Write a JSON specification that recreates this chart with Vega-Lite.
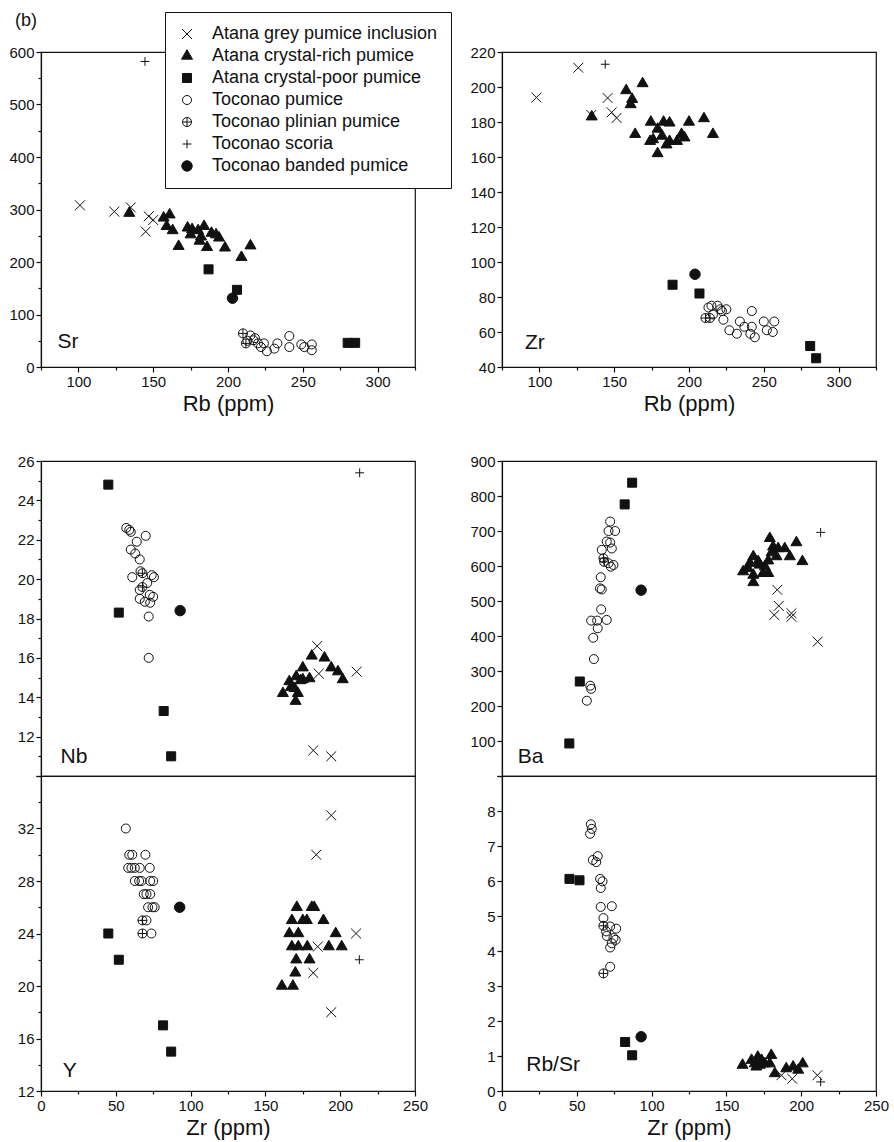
{
  "$schema": "https://vega.github.io/schema/vega-lite/v6.json",
  "padding": {"left": 8, "top": 11, "right": 5, "bottom": 5},
  "spacing": 38,
  "config": {
    "font": "Liberation Sans",
    "view": {"stroke": "#111", "strokeWidth": 1.2},
    "axis": {"grid": false, "format": "d", "domainColor": "#111", "domainWidth": 1.2, "tickColor": "#111", "tickWidth": 1.2, "labelFont": "Liberation Sans", "labelFontSize": 15, "labelColor": "#111", "labelPadding": 2, "labelFlush": false, "labelOverlap": false, "titleFont": "Liberation Sans", "titleFontSize": 22, "titleFontWeight": "normal", "titleColor": "#111", "titlePadding": 4},
    "legend": {"labelFont": "Liberation Sans", "labelFontSize": 18, "labelColor": "#111", "fillColor": "white", "strokeColor": "#111", "padding": 13, "rowPadding": 4, "labelOffset": 16, "symbolSize": 121, "symbolStrokeColor": "#111", "symbolStrokeWidth": 1, "labelLimit": 400}
  },
  "datasets": {
    "sr": [
      {"g": "Atana grey pumice inclusion", "x": 101, "y": 308},
      {"g": "Atana grey pumice inclusion", "x": 124, "y": 296},
      {"g": "Atana grey pumice inclusion", "x": 135, "y": 304},
      {"g": "Atana grey pumice inclusion", "x": 145, "y": 258},
      {"g": "Atana grey pumice inclusion", "x": 147, "y": 287},
      {"g": "Atana grey pumice inclusion", "x": 150, "y": 280},
      {"g": "Atana crystal-rich pumice", "x": 134, "y": 293},
      {"g": "Atana crystal-rich pumice", "x": 157, "y": 284},
      {"g": "Atana crystal-rich pumice", "x": 161, "y": 290},
      {"g": "Atana crystal-rich pumice", "x": 159, "y": 268},
      {"g": "Atana crystal-rich pumice", "x": 163, "y": 260},
      {"g": "Atana crystal-rich pumice", "x": 167, "y": 230},
      {"g": "Atana crystal-rich pumice", "x": 173, "y": 265},
      {"g": "Atana crystal-rich pumice", "x": 176, "y": 262},
      {"g": "Atana crystal-rich pumice", "x": 175, "y": 252},
      {"g": "Atana crystal-rich pumice", "x": 180, "y": 260},
      {"g": "Atana crystal-rich pumice", "x": 182, "y": 248},
      {"g": "Atana crystal-rich pumice", "x": 184, "y": 268},
      {"g": "Atana crystal-rich pumice", "x": 181, "y": 240},
      {"g": "Atana crystal-rich pumice", "x": 186, "y": 228},
      {"g": "Atana crystal-rich pumice", "x": 189, "y": 255},
      {"g": "Atana crystal-rich pumice", "x": 192, "y": 252},
      {"g": "Atana crystal-rich pumice", "x": 194, "y": 246},
      {"g": "Atana crystal-rich pumice", "x": 198, "y": 227},
      {"g": "Atana crystal-rich pumice", "x": 209, "y": 209},
      {"g": "Atana crystal-rich pumice", "x": 215, "y": 231},
      {"g": "Atana crystal-poor pumice", "x": 187, "y": 186},
      {"g": "Atana crystal-poor pumice", "x": 206, "y": 147},
      {"g": "Atana crystal-poor pumice", "x": 280, "y": 46},
      {"g": "Atana crystal-poor pumice", "x": 285, "y": 46},
      {"g": "Toconao pumice", "x": 215, "y": 60},
      {"g": "Toconao pumice", "x": 217, "y": 51},
      {"g": "Toconao pumice", "x": 220, "y": 45},
      {"g": "Toconao pumice", "x": 222, "y": 38},
      {"g": "Toconao pumice", "x": 224, "y": 45},
      {"g": "Toconao pumice", "x": 226, "y": 30},
      {"g": "Toconao pumice", "x": 231, "y": 35},
      {"g": "Toconao pumice", "x": 233, "y": 45},
      {"g": "Toconao pumice", "x": 241, "y": 59},
      {"g": "Toconao pumice", "x": 241, "y": 38},
      {"g": "Toconao pumice", "x": 249, "y": 43},
      {"g": "Toconao pumice", "x": 251, "y": 38},
      {"g": "Toconao pumice", "x": 256, "y": 43},
      {"g": "Toconao pumice", "x": 256, "y": 32},
      {"g": "Toconao pumice", "x": 218, "y": 55},
      {"g": "Toconao pumice", "x": 213, "y": 50},
      {"g": "Toconao plinian pumice", "x": 210, "y": 64},
      {"g": "Toconao plinian pumice", "x": 212, "y": 45},
      {"g": "Toconao scoria", "x": 144.5, "y": 582},
      {"g": "Toconao banded pumice", "x": 203, "y": 131}
    ],
    "zr": [
      {"g": "Atana grey pumice inclusion", "x": 98, "y": 194},
      {"g": "Atana grey pumice inclusion", "x": 126, "y": 211},
      {"g": "Atana grey pumice inclusion", "x": 145.6, "y": 193.7},
      {"g": "Atana grey pumice inclusion", "x": 148.3, "y": 185.5},
      {"g": "Atana grey pumice inclusion", "x": 151.6, "y": 182.3},
      {"g": "Atana grey pumice inclusion", "x": 134.7, "y": 184},
      {"g": "Atana crystal-rich pumice", "x": 135, "y": 183},
      {"g": "Atana crystal-rich pumice", "x": 158, "y": 198},
      {"g": "Atana crystal-rich pumice", "x": 162, "y": 193},
      {"g": "Atana crystal-rich pumice", "x": 161, "y": 190},
      {"g": "Atana crystal-rich pumice", "x": 169, "y": 202},
      {"g": "Atana crystal-rich pumice", "x": 164, "y": 173},
      {"g": "Atana crystal-rich pumice", "x": 174.5, "y": 180},
      {"g": "Atana crystal-rich pumice", "x": 183, "y": 180},
      {"g": "Atana crystal-rich pumice", "x": 187, "y": 179.5},
      {"g": "Atana crystal-rich pumice", "x": 200, "y": 180},
      {"g": "Atana crystal-rich pumice", "x": 210, "y": 182},
      {"g": "Atana crystal-rich pumice", "x": 216, "y": 173},
      {"g": "Atana crystal-rich pumice", "x": 179, "y": 176},
      {"g": "Atana crystal-rich pumice", "x": 176, "y": 170},
      {"g": "Atana crystal-rich pumice", "x": 182, "y": 172},
      {"g": "Atana crystal-rich pumice", "x": 187, "y": 169},
      {"g": "Atana crystal-rich pumice", "x": 192, "y": 169},
      {"g": "Atana crystal-rich pumice", "x": 197, "y": 171},
      {"g": "Atana crystal-rich pumice", "x": 195, "y": 173},
      {"g": "Atana crystal-rich pumice", "x": 185, "y": 167},
      {"g": "Atana crystal-rich pumice", "x": 179, "y": 162},
      {"g": "Atana crystal-rich pumice", "x": 174, "y": 169},
      {"g": "Atana crystal-poor pumice", "x": 189, "y": 87},
      {"g": "Atana crystal-poor pumice", "x": 207, "y": 82},
      {"g": "Atana crystal-poor pumice", "x": 281, "y": 52},
      {"g": "Atana crystal-poor pumice", "x": 285, "y": 45},
      {"g": "Toconao pumice", "x": 213, "y": 74},
      {"g": "Toconao pumice", "x": 215, "y": 75},
      {"g": "Toconao pumice", "x": 219, "y": 75},
      {"g": "Toconao pumice", "x": 221, "y": 73},
      {"g": "Toconao pumice", "x": 222, "y": 72},
      {"g": "Toconao pumice", "x": 225, "y": 73},
      {"g": "Toconao pumice", "x": 223, "y": 67},
      {"g": "Toconao pumice", "x": 216, "y": 70},
      {"g": "Toconao pumice", "x": 227, "y": 61},
      {"g": "Toconao pumice", "x": 232, "y": 59},
      {"g": "Toconao pumice", "x": 234, "y": 66},
      {"g": "Toconao pumice", "x": 237, "y": 63},
      {"g": "Toconao pumice", "x": 242, "y": 72},
      {"g": "Toconao pumice", "x": 242, "y": 63},
      {"g": "Toconao pumice", "x": 241, "y": 59},
      {"g": "Toconao pumice", "x": 244, "y": 57},
      {"g": "Toconao pumice", "x": 250, "y": 66},
      {"g": "Toconao pumice", "x": 252, "y": 61},
      {"g": "Toconao pumice", "x": 256, "y": 60},
      {"g": "Toconao pumice", "x": 257, "y": 66},
      {"g": "Toconao plinian pumice", "x": 211, "y": 68},
      {"g": "Toconao plinian pumice", "x": 214, "y": 68},
      {"g": "Toconao scoria", "x": 144, "y": 213},
      {"g": "Toconao banded pumice", "x": 204, "y": 93}
    ],
    "nb": [
      {"g": "Atana grey pumice inclusion", "x": 184.6, "y": 16.6},
      {"g": "Atana grey pumice inclusion", "x": 185.7, "y": 15.2},
      {"g": "Atana grey pumice inclusion", "x": 211, "y": 15.3},
      {"g": "Atana grey pumice inclusion", "x": 182, "y": 11.3},
      {"g": "Atana grey pumice inclusion", "x": 194, "y": 11.0},
      {"g": "Atana crystal-rich pumice", "x": 181, "y": 16.1},
      {"g": "Atana crystal-rich pumice", "x": 189.5, "y": 16.0},
      {"g": "Atana crystal-rich pumice", "x": 175, "y": 15.5},
      {"g": "Atana crystal-rich pumice", "x": 194, "y": 15.5},
      {"g": "Atana crystal-rich pumice", "x": 198.5, "y": 15.3},
      {"g": "Atana crystal-rich pumice", "x": 201.7, "y": 14.9},
      {"g": "Atana crystal-rich pumice", "x": 170.6, "y": 15.05},
      {"g": "Atana crystal-rich pumice", "x": 166, "y": 14.8},
      {"g": "Atana crystal-rich pumice", "x": 161.7, "y": 14.2},
      {"g": "Atana crystal-rich pumice", "x": 169.5, "y": 14.45},
      {"g": "Atana crystal-rich pumice", "x": 171.7, "y": 14.2},
      {"g": "Atana crystal-rich pumice", "x": 170.2, "y": 13.8},
      {"g": "Atana crystal-rich pumice", "x": 175, "y": 14.9},
      {"g": "Atana crystal-rich pumice", "x": 179.5, "y": 14.95},
      {"g": "Atana crystal-rich pumice", "x": 167, "y": 14.5},
      {"g": "Atana crystal-rich pumice", "x": 173.5, "y": 14.85},
      {"g": "Atana crystal-poor pumice", "x": 45, "y": 24.8},
      {"g": "Atana crystal-poor pumice", "x": 52, "y": 18.3},
      {"g": "Atana crystal-poor pumice", "x": 82, "y": 13.3},
      {"g": "Atana crystal-poor pumice", "x": 87, "y": 11.0},
      {"g": "Toconao pumice", "x": 57, "y": 22.6},
      {"g": "Toconao pumice", "x": 59, "y": 22.5},
      {"g": "Toconao pumice", "x": 60, "y": 22.4},
      {"g": "Toconao pumice", "x": 70, "y": 22.2},
      {"g": "Toconao pumice", "x": 64, "y": 21.9},
      {"g": "Toconao pumice", "x": 60, "y": 21.5},
      {"g": "Toconao pumice", "x": 63, "y": 21.3},
      {"g": "Toconao pumice", "x": 66, "y": 21.0},
      {"g": "Toconao pumice", "x": 66.5, "y": 20.4},
      {"g": "Toconao pumice", "x": 61, "y": 20.1},
      {"g": "Toconao pumice", "x": 74, "y": 20.2},
      {"g": "Toconao pumice", "x": 75.5, "y": 20.1},
      {"g": "Toconao pumice", "x": 71, "y": 19.8},
      {"g": "Toconao pumice", "x": 66, "y": 19.45},
      {"g": "Toconao pumice", "x": 72.7, "y": 19.2},
      {"g": "Toconao pumice", "x": 75, "y": 19.1},
      {"g": "Toconao pumice", "x": 66, "y": 19.0},
      {"g": "Toconao pumice", "x": 69.4, "y": 18.85},
      {"g": "Toconao pumice", "x": 73, "y": 18.8},
      {"g": "Toconao pumice", "x": 72, "y": 18.1},
      {"g": "Toconao pumice", "x": 72, "y": 16.0},
      {"g": "Toconao plinian pumice", "x": 67.8, "y": 20.3},
      {"g": "Toconao plinian pumice", "x": 67.8, "y": 19.6},
      {"g": "Toconao scoria", "x": 213, "y": 25.4},
      {"g": "Toconao banded pumice", "x": 93, "y": 18.4}
    ],
    "ba": [
      {"g": "Atana grey pumice inclusion", "x": 184, "y": 532},
      {"g": "Atana grey pumice inclusion", "x": 185, "y": 486},
      {"g": "Atana grey pumice inclusion", "x": 182, "y": 460},
      {"g": "Atana grey pumice inclusion", "x": 193.5, "y": 465},
      {"g": "Atana grey pumice inclusion", "x": 193.5, "y": 455},
      {"g": "Atana grey pumice inclusion", "x": 211, "y": 384},
      {"g": "Atana crystal-rich pumice", "x": 179, "y": 679},
      {"g": "Atana crystal-rich pumice", "x": 196.8, "y": 667},
      {"g": "Atana crystal-rich pumice", "x": 189, "y": 650},
      {"g": "Atana crystal-rich pumice", "x": 181.2, "y": 655},
      {"g": "Atana crystal-rich pumice", "x": 180.2, "y": 638},
      {"g": "Atana crystal-rich pumice", "x": 192.4, "y": 627},
      {"g": "Atana crystal-rich pumice", "x": 200.8, "y": 613},
      {"g": "Atana crystal-rich pumice", "x": 168, "y": 627},
      {"g": "Atana crystal-rich pumice", "x": 178, "y": 615},
      {"g": "Atana crystal-rich pumice", "x": 171.2, "y": 613},
      {"g": "Atana crystal-rich pumice", "x": 161.2, "y": 584},
      {"g": "Atana crystal-rich pumice", "x": 164.5, "y": 593},
      {"g": "Atana crystal-rich pumice", "x": 168, "y": 574},
      {"g": "Atana crystal-rich pumice", "x": 174.5, "y": 579},
      {"g": "Atana crystal-rich pumice", "x": 178, "y": 579},
      {"g": "Atana crystal-rich pumice", "x": 168, "y": 553},
      {"g": "Atana crystal-rich pumice", "x": 172.3, "y": 603},
      {"g": "Atana crystal-rich pumice", "x": 175.7, "y": 598},
      {"g": "Atana crystal-rich pumice", "x": 165.7, "y": 608},
      {"g": "Atana crystal-rich pumice", "x": 184.6, "y": 650},
      {"g": "Atana crystal-rich pumice", "x": 183.5, "y": 627},
      {"g": "Atana crystal-poor pumice", "x": 45, "y": 93},
      {"g": "Atana crystal-poor pumice", "x": 52, "y": 270},
      {"g": "Atana crystal-poor pumice", "x": 82, "y": 776},
      {"g": "Atana crystal-poor pumice", "x": 87, "y": 838},
      {"g": "Toconao pumice", "x": 72.3, "y": 727},
      {"g": "Toconao pumice", "x": 71.2, "y": 700},
      {"g": "Toconao pumice", "x": 75.6, "y": 700},
      {"g": "Toconao pumice", "x": 70, "y": 670},
      {"g": "Toconao pumice", "x": 72.3, "y": 667},
      {"g": "Toconao pumice", "x": 73.4, "y": 650},
      {"g": "Toconao pumice", "x": 66.7, "y": 646},
      {"g": "Toconao pumice", "x": 71.2, "y": 608},
      {"g": "Toconao pumice", "x": 74.5, "y": 603},
      {"g": "Toconao pumice", "x": 72.7, "y": 598},
      {"g": "Toconao pumice", "x": 66, "y": 568},
      {"g": "Toconao pumice", "x": 66.7, "y": 533},
      {"g": "Toconao pumice", "x": 65.5, "y": 536},
      {"g": "Toconao pumice", "x": 66.3, "y": 476},
      {"g": "Toconao pumice", "x": 70, "y": 446},
      {"g": "Toconao pumice", "x": 63.6, "y": 444},
      {"g": "Toconao pumice", "x": 59.6, "y": 444},
      {"g": "Toconao pumice", "x": 64, "y": 422},
      {"g": "Toconao pumice", "x": 61, "y": 395},
      {"g": "Toconao pumice", "x": 61.4, "y": 334},
      {"g": "Toconao pumice", "x": 59.6, "y": 249},
      {"g": "Toconao pumice", "x": 59, "y": 258},
      {"g": "Toconao pumice", "x": 56.7, "y": 215},
      {"g": "Toconao plinian pumice", "x": 67.8, "y": 622},
      {"g": "Toconao plinian pumice", "x": 68.3, "y": 612},
      {"g": "Toconao scoria", "x": 213, "y": 696},
      {"g": "Toconao banded pumice", "x": 93, "y": 531}
    ],
    "yy": [
      {"g": "Atana grey pumice inclusion", "x": 194, "y": 33},
      {"g": "Atana grey pumice inclusion", "x": 184, "y": 30},
      {"g": "Atana grey pumice inclusion", "x": 210.6, "y": 24},
      {"g": "Atana grey pumice inclusion", "x": 185, "y": 23},
      {"g": "Atana grey pumice inclusion", "x": 182, "y": 21},
      {"g": "Atana grey pumice inclusion", "x": 194, "y": 18},
      {"g": "Atana crystal-rich pumice", "x": 171, "y": 26},
      {"g": "Atana crystal-rich pumice", "x": 181, "y": 26},
      {"g": "Atana crystal-rich pumice", "x": 182.6, "y": 26},
      {"g": "Atana crystal-rich pumice", "x": 167.7, "y": 25},
      {"g": "Atana crystal-rich pumice", "x": 175, "y": 25},
      {"g": "Atana crystal-rich pumice", "x": 177.7, "y": 25},
      {"g": "Atana crystal-rich pumice", "x": 188.8, "y": 25},
      {"g": "Atana crystal-rich pumice", "x": 166, "y": 24},
      {"g": "Atana crystal-rich pumice", "x": 172, "y": 24},
      {"g": "Atana crystal-rich pumice", "x": 197, "y": 24},
      {"g": "Atana crystal-rich pumice", "x": 167.7, "y": 23},
      {"g": "Atana crystal-rich pumice", "x": 172, "y": 23},
      {"g": "Atana crystal-rich pumice", "x": 178, "y": 23},
      {"g": "Atana crystal-rich pumice", "x": 192.4, "y": 23},
      {"g": "Atana crystal-rich pumice", "x": 201, "y": 23},
      {"g": "Atana crystal-rich pumice", "x": 170.6, "y": 22},
      {"g": "Atana crystal-rich pumice", "x": 179.5, "y": 22},
      {"g": "Atana crystal-rich pumice", "x": 170, "y": 21},
      {"g": "Atana crystal-rich pumice", "x": 161, "y": 20},
      {"g": "Atana crystal-rich pumice", "x": 168.4, "y": 20},
      {"g": "Atana crystal-poor pumice", "x": 45, "y": 24},
      {"g": "Atana crystal-poor pumice", "x": 52, "y": 22},
      {"g": "Atana crystal-poor pumice", "x": 81.6, "y": 17},
      {"g": "Atana crystal-poor pumice", "x": 87, "y": 15},
      {"g": "Toconao pumice", "x": 56.7, "y": 32},
      {"g": "Toconao pumice", "x": 59, "y": 30},
      {"g": "Toconao pumice", "x": 61, "y": 30},
      {"g": "Toconao pumice", "x": 69.8, "y": 30},
      {"g": "Toconao pumice", "x": 58.3, "y": 29},
      {"g": "Toconao pumice", "x": 60.5, "y": 29},
      {"g": "Toconao pumice", "x": 62.7, "y": 29},
      {"g": "Toconao pumice", "x": 66, "y": 29},
      {"g": "Toconao pumice", "x": 72.7, "y": 29},
      {"g": "Toconao pumice", "x": 62.7, "y": 28},
      {"g": "Toconao pumice", "x": 65.6, "y": 28},
      {"g": "Toconao pumice", "x": 67.2, "y": 28},
      {"g": "Toconao pumice", "x": 73, "y": 28},
      {"g": "Toconao pumice", "x": 75, "y": 28},
      {"g": "Toconao pumice", "x": 68.7, "y": 27},
      {"g": "Toconao pumice", "x": 70.5, "y": 27},
      {"g": "Toconao pumice", "x": 73, "y": 27},
      {"g": "Toconao pumice", "x": 71.6, "y": 26},
      {"g": "Toconao pumice", "x": 74.5, "y": 26},
      {"g": "Toconao pumice", "x": 76, "y": 26},
      {"g": "Toconao pumice", "x": 70.5, "y": 25},
      {"g": "Toconao pumice", "x": 73.8, "y": 24},
      {"g": "Toconao plinian pumice", "x": 67.8, "y": 25},
      {"g": "Toconao plinian pumice", "x": 67.8, "y": 24},
      {"g": "Toconao scoria", "x": 212.8, "y": 22},
      {"g": "Toconao banded pumice", "x": 92.7, "y": 26}
    ],
    "rbsr": [
      {"g": "Atana grey pumice inclusion", "x": 194, "y": 0.35},
      {"g": "Atana grey pumice inclusion", "x": 210.8, "y": 0.45},
      {"g": "Atana grey pumice inclusion", "x": 186.8, "y": 0.45},
      {"g": "Atana crystal-rich pumice", "x": 160.8, "y": 0.74},
      {"g": "Atana crystal-rich pumice", "x": 166.8, "y": 0.88},
      {"g": "Atana crystal-rich pumice", "x": 171, "y": 0.97},
      {"g": "Atana crystal-rich pumice", "x": 169, "y": 0.78},
      {"g": "Atana crystal-rich pumice", "x": 172.3, "y": 0.74},
      {"g": "Atana crystal-rich pumice", "x": 175.7, "y": 0.78},
      {"g": "Atana crystal-rich pumice", "x": 180, "y": 1.02},
      {"g": "Atana crystal-rich pumice", "x": 179, "y": 0.78},
      {"g": "Atana crystal-rich pumice", "x": 182.4, "y": 0.5},
      {"g": "Atana crystal-rich pumice", "x": 190, "y": 0.64},
      {"g": "Atana crystal-rich pumice", "x": 194.6, "y": 0.69},
      {"g": "Atana crystal-rich pumice", "x": 201, "y": 0.78},
      {"g": "Atana crystal-rich pumice", "x": 173.5, "y": 0.88},
      {"g": "Atana crystal-rich pumice", "x": 170, "y": 0.69},
      {"g": "Atana crystal-rich pumice", "x": 198, "y": 0.6},
      {"g": "Atana crystal-poor pumice", "x": 45.1, "y": 6.06},
      {"g": "Atana crystal-poor pumice", "x": 51.8, "y": 6.02},
      {"g": "Atana crystal-poor pumice", "x": 82.3, "y": 1.4},
      {"g": "Atana crystal-poor pumice", "x": 87, "y": 1.02},
      {"g": "Toconao pumice", "x": 59.4, "y": 7.62},
      {"g": "Toconao pumice", "x": 60, "y": 7.49},
      {"g": "Toconao pumice", "x": 58.9, "y": 7.35},
      {"g": "Toconao pumice", "x": 64, "y": 6.71},
      {"g": "Toconao pumice", "x": 60.7, "y": 6.6},
      {"g": "Toconao pumice", "x": 63, "y": 6.54},
      {"g": "Toconao pumice", "x": 65.6, "y": 6.06},
      {"g": "Toconao pumice", "x": 67.2, "y": 5.99},
      {"g": "Toconao pumice", "x": 66, "y": 5.8},
      {"g": "Toconao pumice", "x": 73.4, "y": 5.28},
      {"g": "Toconao pumice", "x": 66, "y": 5.26},
      {"g": "Toconao pumice", "x": 67.8, "y": 4.94},
      {"g": "Toconao pumice", "x": 72.3, "y": 4.7},
      {"g": "Toconao pumice", "x": 69.6, "y": 4.56},
      {"g": "Toconao pumice", "x": 76.3, "y": 4.64},
      {"g": "Toconao pumice", "x": 70, "y": 4.43},
      {"g": "Toconao pumice", "x": 74.5, "y": 4.37},
      {"g": "Toconao pumice", "x": 76, "y": 4.32},
      {"g": "Toconao pumice", "x": 73.4, "y": 4.22},
      {"g": "Toconao pumice", "x": 72.3, "y": 4.1},
      {"g": "Toconao pumice", "x": 72.3, "y": 3.55},
      {"g": "Toconao plinian pumice", "x": 67.8, "y": 4.72},
      {"g": "Toconao plinian pumice", "x": 67.8, "y": 3.36},
      {"g": "Toconao scoria", "x": 213, "y": 0.26},
      {"g": "Toconao banded pumice", "x": 93, "y": 1.55}
    ]
  },
  "vconcat": [
    {
      "hconcat": [
        {
          "width": 374, "height": 315,
          "layer": [
            {
              "data": {"name": "sr"},
              "mark": {"type": "point", "filled": true, "opacity": 1, "strokeWidth": 1, "size": 121},
              "encoding": {
                "x": {"field": "x", "type": "quantitative", "scale": {"domain": [75, 325], "nice": false, "zero": false}, "axis": {"title": "Rb (ppm)", "format": "d", "tickCount": 100, "labelOverlap": false, "values": [75, 100, 125, 150, 175, 200, 225, 250, 275, 300, 325], "labelExpr": "datum.value % 50 === 0 ? datum.label : ''", "tickSize": {"condition": {"test": "datum.value % 50 === 0", "value": 5}, "value": 3}}},
                "y": {"field": "y", "type": "quantitative", "scale": {"domain": [0, 600], "nice": false, "zero": false}, "axis": {"title": null, "format": "d", "tickCount": 100, "labelOverlap": false, "values": [0, 50, 100, 150, 200, 250, 300, 350, 400, 450, 500, 550, 600], "labelExpr": "datum.value % 100 === 0 ? datum.label : ''", "tickSize": {"condition": {"test": "datum.value % 100 === 0", "value": 5}, "value": 3}}},
                "shape": {"field": "g", "type": "nominal", "scale": {"domain": ["Atana grey pumice inclusion", "Atana crystal-rich pumice", "Atana crystal-poor pumice", "Toconao pumice", "Toconao plinian pumice", "Toconao scoria", "Toconao banded pumice"], "range": ["M-0.9,-0.9L0.9,0.9M-0.9,0.9L0.9,-0.9", "M0,-1.155L1,0.577L-1,0.577Z", "M-0.82,-0.82L0.82,-0.82L0.82,0.82L-0.82,0.82Z", "M-0.82,0A0.82,0.82,0,1,1,0.82,0A0.82,0.82,0,1,1,-0.82,0Z", "M-0.82,0A0.82,0.82,0,1,1,0.82,0A0.82,0.82,0,1,1,-0.82,0ZM-0.82,0L0.82,0M0,-0.82L0,0.82", "M-0.8,0L0.8,0M0,-0.8L0,0.8", "M-0.95,0A0.95,0.95,0,1,1,0.95,0A0.95,0.95,0,1,1,-0.95,0Z"]}, "legend": {"title": null, "orient": "none", "legendX": 124, "legendY": -40}},
                "fill": {"field": "g", "type": "nominal", "scale": {"domain": ["Atana grey pumice inclusion", "Atana crystal-rich pumice", "Atana crystal-poor pumice", "Toconao pumice", "Toconao plinian pumice", "Toconao scoria", "Toconao banded pumice"], "range": ["transparent", "#111", "#111", "transparent", "transparent", "transparent", "#111"]}, "legend": {"title": null, "orient": "none", "legendX": 124, "legendY": -40}},
                "stroke": {"field": "g", "type": "nominal", "scale": {"domain": ["Atana grey pumice inclusion", "Atana crystal-rich pumice", "Atana crystal-poor pumice", "Toconao pumice", "Toconao plinian pumice", "Toconao scoria", "Toconao banded pumice"], "range": ["#111", "#111", "#111", "#111", "#111", "#111", "#111"]}, "legend": {"title": null, "orient": "none", "legendX": 124, "legendY": -40}}
              }
            },
            {
              "data": {"values": [{"label": "Sr"}]},
              "mark": {"type": "text", "align": "left", "baseline": "alphabetic", "fontSize": 21, "font": "Liberation Sans", "color": "#111"},
              "encoding": {"x": {"datum": 86}, "y": {"datum": 36}, "text": {"field": "label"}}
            },
            {
              "data": {"values": [{"label": "(b)"}]},
              "mark": {"type": "text", "align": "left", "baseline": "alphabetic", "fontSize": 18, "font": "Liberation Sans", "color": "#111"},
              "encoding": {"x": {"datum": 57.6}, "y": {"datum": 649}, "text": {"field": "label"}}
            }
          ]
        },
        {
          "width": 374, "height": 315,
          "layer": [
            {
              "data": {"name": "zr"},
              "mark": {"type": "point", "filled": true, "opacity": 1, "strokeWidth": 1, "size": 121},
              "encoding": {
                "x": {"field": "x", "type": "quantitative", "scale": {"domain": [75, 325], "nice": false, "zero": false}, "axis": {"title": "Rb (ppm)", "format": "d", "tickCount": 100, "labelOverlap": false, "values": [75, 100, 125, 150, 175, 200, 225, 250, 275, 300, 325], "labelExpr": "datum.value % 50 === 0 ? datum.label : ''", "tickSize": {"condition": {"test": "datum.value % 50 === 0", "value": 5}, "value": 3}}},
                "y": {"field": "y", "type": "quantitative", "scale": {"domain": [40, 220], "nice": false, "zero": false}, "axis": {"title": null, "format": "d", "tickCount": 100, "labelOverlap": false, "values": [40, 60, 80, 100, 120, 140, 160, 180, 200, 220], "tickSize": 5}},
                "shape": {"field": "g", "type": "nominal", "legend": {"title": null, "orient": "none", "legendX": 124, "legendY": -40}},
                "fill": {"field": "g", "type": "nominal", "legend": {"title": null, "orient": "none", "legendX": 124, "legendY": -40}},
                "stroke": {"field": "g", "type": "nominal", "legend": {"title": null, "orient": "none", "legendX": 124, "legendY": -40}}
              }
            },
            {
              "data": {"values": [{"label": "Zr"}]},
              "mark": {"type": "text", "align": "left", "baseline": "alphabetic", "fontSize": 21, "font": "Liberation Sans", "color": "#111"},
              "encoding": {"x": {"datum": 90.4}, "y": {"datum": 50.3}, "text": {"field": "label"}}
            }
          ]
        }
      ],
      "spacing": 87,
      "bounds": "flush"
    },
    {
      "columns": 2,
      "spacing": {"row": 0, "column": 87},
      "bounds": "flush",
      "concat": [
        {
          "width": 374, "height": 315,
          "layer": [
            {
              "data": {"name": "nb"},
              "mark": {"type": "point", "filled": true, "opacity": 1, "strokeWidth": 1, "size": 121},
              "encoding": {
                "x": {"field": "x", "type": "quantitative", "scale": {"domain": [0, 250], "nice": false, "zero": false}, "axis": null},
                "y": {"field": "y", "type": "quantitative", "scale": {"domain": [10, 26], "nice": false, "zero": false}, "axis": {"title": null, "format": "d", "tickCount": 100, "labelOverlap": false, "values": [10, 11, 12, 13, 14, 15, 16, 17, 18, 19, 20, 21, 22, 23, 24, 25, 26], "labelExpr": "datum.value % 2 === 0 && datum.value >= 12 ? datum.label : ''", "tickSize": {"condition": {"test": "datum.value % 2 === 0", "value": 5}, "value": 3}}},
                "shape": {"field": "g", "type": "nominal", "legend": {"title": null, "orient": "none", "legendX": 124, "legendY": -40}},
                "fill": {"field": "g", "type": "nominal", "legend": {"title": null, "orient": "none", "legendX": 124, "legendY": -40}},
                "stroke": {"field": "g", "type": "nominal", "legend": {"title": null, "orient": "none", "legendX": 124, "legendY": -40}}
              }
            },
            {
              "data": {"values": [{"label": "Nb"}]},
              "mark": {"type": "text", "align": "left", "baseline": "alphabetic", "fontSize": 21, "font": "Liberation Sans", "color": "#111"},
              "encoding": {"x": {"datum": 13.1}, "y": {"datum": 10.68}, "text": {"field": "label"}}
            }
          ]
        },
        {
          "width": 374, "height": 315,
          "layer": [
            {
              "data": {"name": "ba"},
              "mark": {"type": "point", "filled": true, "opacity": 1, "strokeWidth": 1, "size": 121},
              "encoding": {
                "x": {"field": "x", "type": "quantitative", "scale": {"domain": [0, 250], "nice": false, "zero": false}, "axis": null},
                "y": {"field": "y", "type": "quantitative", "scale": {"domain": [0, 900], "nice": false, "zero": false}, "axis": {"title": null, "format": "d", "tickCount": 100, "labelOverlap": false, "values": [0, 100, 200, 300, 400, 500, 600, 700, 800, 900], "labelExpr": "datum.value >= 100 ? datum.label : ''", "tickSize": 5}},
                "shape": {"field": "g", "type": "nominal", "legend": {"title": null, "orient": "none", "legendX": 124, "legendY": -40}},
                "fill": {"field": "g", "type": "nominal", "legend": {"title": null, "orient": "none", "legendX": 124, "legendY": -40}},
                "stroke": {"field": "g", "type": "nominal", "legend": {"title": null, "orient": "none", "legendX": 124, "legendY": -40}}
              }
            },
            {
              "data": {"values": [{"label": "Ba"}]},
              "mark": {"type": "text", "align": "left", "baseline": "alphabetic", "fontSize": 21, "font": "Liberation Sans", "color": "#111"},
              "encoding": {"x": {"datum": 10.5}, "y": {"datum": 38}, "text": {"field": "label"}}
            }
          ]
        },
        {
          "width": 374, "height": 315,
          "layer": [
            {
              "data": {"name": "yy"},
              "mark": {"type": "point", "filled": true, "opacity": 1, "strokeWidth": 1, "size": 121},
              "encoding": {
                "x": {"field": "x", "type": "quantitative", "scale": {"domain": [0, 250], "nice": false, "zero": false}, "axis": {"title": "Zr (ppm)", "format": "d", "tickCount": 100, "labelOverlap": false, "values": [0, 25, 50, 75, 100, 125, 150, 175, 200, 225, 250], "labelExpr": "datum.value % 50 === 0 ? datum.label : ''", "tickSize": {"condition": {"test": "datum.value % 50 === 0", "value": 5}, "value": 3}}},
                "y": {"field": "y", "type": "quantitative", "scale": {"domain": [12, 36], "nice": false, "zero": false}, "axis": {"title": null, "format": "d", "tickCount": 100, "labelOverlap": false, "values": [12, 14, 16, 18, 20, 22, 24, 26, 28, 30, 32, 34, 36], "labelExpr": "(datum.value - 12) % 4 === 0 && datum.value <= 32 ? datum.label : ''", "tickSize": {"condition": {"test": "(datum.value - 12) % 4 === 0", "value": 5}, "value": 3}}},
                "shape": {"field": "g", "type": "nominal", "legend": {"title": null, "orient": "none", "legendX": 124, "legendY": -40}},
                "fill": {"field": "g", "type": "nominal", "legend": {"title": null, "orient": "none", "legendX": 124, "legendY": -40}},
                "stroke": {"field": "g", "type": "nominal", "legend": {"title": null, "orient": "none", "legendX": 124, "legendY": -40}}
              }
            },
            {
              "data": {"values": [{"label": "Y"}]},
              "mark": {"type": "text", "align": "left", "baseline": "alphabetic", "fontSize": 21, "font": "Liberation Sans", "color": "#111"},
              "encoding": {"x": {"datum": 14.5}, "y": {"datum": 13.07}, "text": {"field": "label"}}
            }
          ]
        },
        {
          "width": 374, "height": 315,
          "layer": [
            {
              "data": {"name": "rbsr"},
              "mark": {"type": "point", "filled": true, "opacity": 1, "strokeWidth": 1, "size": 121},
              "encoding": {
                "x": {"field": "x", "type": "quantitative", "scale": {"domain": [0, 250], "nice": false, "zero": false}, "axis": {"title": "Zr (ppm)", "format": "d", "tickCount": 100, "labelOverlap": false, "values": [0, 25, 50, 75, 100, 125, 150, 175, 200, 225, 250], "labelExpr": "datum.value % 50 === 0 ? datum.label : ''", "tickSize": {"condition": {"test": "datum.value % 50 === 0", "value": 5}, "value": 3}}},
                "y": {"field": "y", "type": "quantitative", "scale": {"domain": [0, 9], "nice": false, "zero": false}, "axis": {"title": null, "format": "d", "tickCount": 100, "labelOverlap": false, "values": [0, 1, 2, 3, 4, 5, 6, 7, 8, 9], "labelExpr": "datum.value <= 8 ? datum.label : ''", "tickSize": 5}},
                "shape": {"field": "g", "type": "nominal", "legend": {"title": null, "orient": "none", "legendX": 124, "legendY": -40}},
                "fill": {"field": "g", "type": "nominal", "legend": {"title": null, "orient": "none", "legendX": 124, "legendY": -40}},
                "stroke": {"field": "g", "type": "nominal", "legend": {"title": null, "orient": "none", "legendX": 124, "legendY": -40}}
              }
            },
            {
              "data": {"values": [{"label": "Rb/Sr"}]},
              "mark": {"type": "text", "align": "left", "baseline": "alphabetic", "fontSize": 21, "font": "Liberation Sans", "color": "#111"},
              "encoding": {"x": {"datum": 16.2}, "y": {"datum": 0.56}, "text": {"field": "label"}}
            }
          ]
        }
      ]
    }
  ]
}
